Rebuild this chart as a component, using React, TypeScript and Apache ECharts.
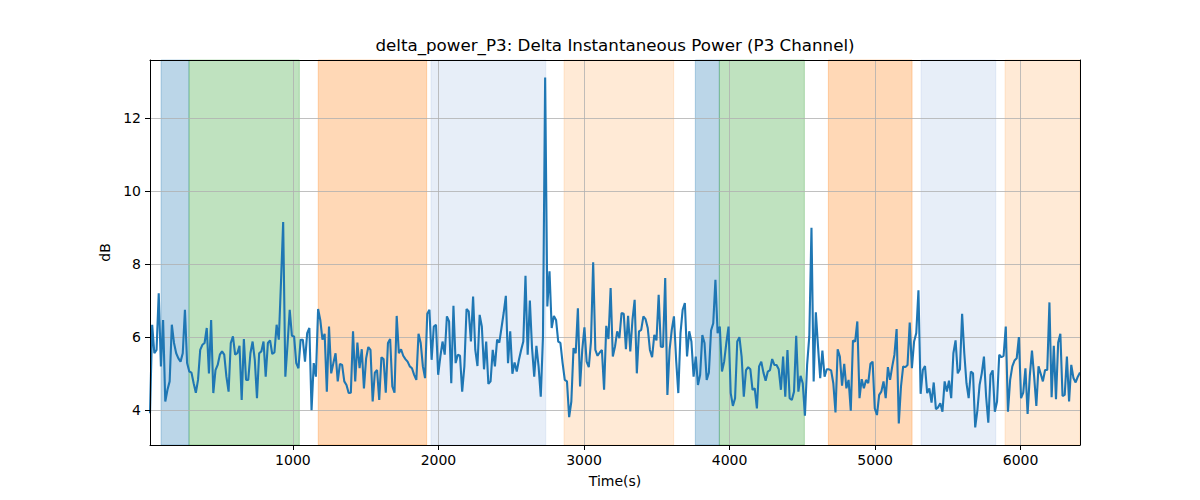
import React, { useEffect, useRef } from "react";
import * as echarts from "echarts";

const TITLE = "delta_power_P3: Delta Instantaneous Power (P3 Channel)";
const X_NAME = "Time(s)";
const Y_NAME = "dB";

const START_TIME = 18;
const STEP = 15;
const X_MIN = 18;
const X_MAX = 6408;
const Y_MIN = 3.05;
const Y_MAX = 13.58;

const X_TICKS = [1000, 2000, 3000, 4000, 5000, 6000];
const Y_TICKS = [4, 6, 8, 10, 12];

const SEG_A = [3.92, 6.34, 5.56, 5.65, 7.2, 5.2, 6.47, 4.24, 4.56, 4.79, 6.34, 5.84, 5.56, 5.42, 5.33, 5.56, 6.75, 5.29, 5.06, 5.03, 4.74, 4.48, 4.83, 5.65, 5.79, 5.84, 6.25, 5.01, 6.47, 4.47, 5.1, 5.24, 5.52, 5.61, 5.52, 4.92, 4.51, 5.84, 6.02, 5.52, 5.56, 5.76, 4.28, 5.95, 4.83, 4.83, 5.56, 5.88, 5.38, 4.33, 5.56, 5.61, 5.88, 4.92, 5.84, 5.91, 5.54, 5.58, 6.34, 5.93];
const SPIKE_A = [7.5, 9.15];
const SEG_B = [4.92, 5.8, 6.75, 6.04, 6.02, 5.29, 5.15, 5.93, 5.93, 5.33, 6.11, 6.25, 4.0, 5.29, 4.92, 6.77, 6.47, 5.93, 6.09, 4.51, 6.29, 5.01, 5.29, 5.56, 4.79, 5.27, 5.24, 4.79, 4.69, 4.47, 4.48, 6.16, 4.79, 5.85, 5.15, 5.67, 4.6, 5.42, 5.73, 5.65, 4.24, 5.03, 5.1, 4.28, 5.45, 5.4, 4.48, 5.84, 5.95, 4.65, 4.48, 6.58, 5.56, 5.67, 5.49, 5.4, 5.33, 5.2, 5.15, 4.97, 4.83];
const SEG_C = [6.09, 5.84, 5.2, 4.88, 6.64, 6.75, 5.38, 6.29, 6.34, 4.97, 5.47, 5.88, 5.52, 6.57, 6.43, 4.74, 6.86, 5.29, 5.52, 5.49, 4.51, 5.2, 6.77, 6.7, 5.88, 7.11, 5.65, 5.21, 6.61, 6.29, 5.12, 5.88, 4.72, 4.79, 5.65, 5.2, 5.93, 5.85, 6.25, 6.66, 7.13, 5.29, 6.16, 5.0, 5.31, 5.06, 5.38, 5.65, 5.88, 7.68, 5.52, 7.0, 5.7, 4.92, 5.76, 5.2, 4.37];
const SPIKE_B = [6.0, 13.1];
const SEG_D = [6.84, 7.8, 6.25, 6.58, 6.47, 5.88, 5.84, 5.29, 4.83, 4.79, 3.81, 4.24, 5.7, 5.56, 6.79, 4.65, 5.65, 6.27, 5.33, 5.18, 5.88, 8.05, 5.65, 5.49, 5.58, 5.65, 4.56, 6.31, 5.95, 7.34, 5.47, 5.74, 6.16, 5.97, 6.66, 6.64, 5.67, 6.58, 5.61, 6.47, 7.02, 5.01, 6.16, 6.2, 6.57, 6.49, 6.25, 5.65, 5.45, 6.06, 5.91, 7.16, 5.74, 5.73, 7.62, 4.42, 5.65, 6.2, 6.57, 5.38, 4.47, 6.11, 6.75];
const SEG_E = [6.93, 5.47, 6.16, 5.88, 4.92, 5.47, 4.69, 4.97, 6.06, 5.84, 4.83, 5.03, 6.18, 6.38, 7.57, 6.11, 6.29, 5.06, 5.33, 5.84, 6.29, 4.47, 4.12, 4.33, 5.88, 6.0, 5.47, 4.37, 5.1, 5.18, 5.12, 4.56, 4.6, 4.05, 5.2, 5.33, 5.03, 4.81, 5.06, 5.1, 5.4, 5.24, 5.24, 5.12, 4.56, 5.47, 4.37, 5.65, 4.33, 4.28, 4.51, 6.04, 4.51, 4.94, 4.74, 3.85, 5.24, 6.02, 8.99, 4.79];
const SEG_F = [6.68, 5.74, 4.88, 5.63, 4.92, 5.12, 5.12, 5.09, 4.74, 3.94, 5.67, 5.47, 4.67, 5.27, 4.6, 4.83, 3.99, 5.91, 5.88, 6.43, 4.33, 4.85, 4.6, 4.83, 4.74, 5.27, 5.33, 4.05, 3.87, 4.42, 4.51, 4.79, 4.33, 5.18, 4.83, 5.2, 5.52, 6.22, 3.64, 4.65, 5.2, 5.18, 5.24, 6.4, 5.15, 5.88, 6.11, 7.28, 4.45, 5.1, 5.21, 4.47, 4.6, 4.21, 4.76, 4.03, 4.08, 4.19, 3.96, 4.79, 4.51];
const SEG_G = [4.81, 4.33, 5.56, 5.91, 5.01, 5.12, 6.64, 5.56, 4.74, 4.33, 5.06, 5.01, 3.53, 4.0, 4.69, 5.01, 5.47, 4.37, 3.66, 4.97, 5.09, 3.96, 4.24, 5.52, 5.45, 5.49, 6.29, 3.96, 4.83, 5.2, 5.36, 5.42, 6.0, 4.33, 4.48, 5.15, 3.9, 4.94, 5.63, 4.92, 4.12, 5.2, 5.0, 4.79, 5.1, 5.1, 6.95, 4.36, 5.76, 4.3, 5.85, 6.09, 4.39, 4.42, 5.47, 4.24, 5.24, 4.88, 4.76, 4.92, 5.03];

const VALUES = [...SEG_A, ...SPIKE_A, ...SEG_B, ...SEG_C, ...SPIKE_B, ...SEG_D, ...SEG_E, ...SEG_F, ...SEG_G];

const SPAN_START = [94, 286, 1174, 1949, 2863, 3765, 3930, 4679, 5316, 5893];
const SPAN_END = [286, 1044, 1919, 2737, 3616, 3930, 4514, 5254, 5829, 6408];
const SPAN_KIND = ["blue", "green", "orange", "lightblue", "lightorange", "blue", "green", "orange", "lightblue", "lightorange"];

const KIND_COLOR: Record<string, string> = {
  blue: "rgba(31,119,180,0.3)",
  green: "rgba(44,160,44,0.3)",
  orange: "rgba(255,127,14,0.3)",
  lightblue: "rgba(174,199,232,0.3)",
  lightorange: "rgba(255,187,120,0.3)",
};

const FONT = "DejaVu Sans";

export default function App() {
  const ref = useRef<HTMLDivElement>(null);

  useEffect(() => {
    document.body.style.margin = "0";
    if (!ref.current) return;
    const chart = echarts.init(ref.current, undefined, { renderer: "svg" });

    const lineData = VALUES.map((v, i) => [START_TIME + STEP * i, v]);

    const spans = SPAN_START.map((s, i) => [
      {
        xAxis: s,
        itemStyle: {
          color: KIND_COLOR[SPAN_KIND[i]],
          borderColor: KIND_COLOR[SPAN_KIND[i]],
          borderWidth: 1,
        },
      },
      { xAxis: SPAN_END[i] },
    ]);

    const gridLines = [
      ...X_TICKS.map((v) => ({ xAxis: v })),
      ...Y_TICKS.map((v) => ({ yAxis: v })),
    ];

    const labelStyle = { color: "#000", fontSize: 14, fontFamily: FONT };
    const plain = (v: number) => String(v);

    chart.setOption({
      animation: false,
      backgroundColor: "#fff",
      title: {
        text: TITLE,
        left: 615,
        top: 36,
        textAlign: "center",
        padding: 0,
        textStyle: { color: "#000", fontSize: 16.7, fontWeight: "normal", fontFamily: FONT },
      },
      grid: { left: 150, right: 120, top: 60, bottom: 55, containLabel: false, outerBoundsMode: "none" },
      xAxis: [
        {
          type: "value",
          min: X_MIN,
          max: X_MAX,
          position: "bottom",
          z: 10,
          axisLine: { show: true, onZero: false, lineStyle: { color: "#000", width: 1 } },
          axisTick: { show: true, customValues: X_TICKS, length: 5, lineStyle: { color: "#000", width: 1 } },
          axisLabel: { ...labelStyle, customValues: X_TICKS, margin: 8, formatter: plain },
          splitLine: { show: false },
          name: X_NAME,
          nameLocation: "middle",
          nameGap: 29,
          nameTextStyle: labelStyle,
        },
        {
          type: "value",
          min: X_MIN,
          max: X_MAX,
          position: "top",
          z: 10,
          axisLine: { show: true, onZero: false, lineStyle: { color: "#000", width: 1 } },
          axisTick: { show: false },
          axisLabel: { show: false },
          splitLine: { show: false },
        },
      ],
      yAxis: [
        {
          type: "value",
          min: Y_MIN,
          max: Y_MAX,
          position: "left",
          z: 10,
          axisLine: { show: true, onZero: false, lineStyle: { color: "#000", width: 1 } },
          axisTick: { show: true, customValues: Y_TICKS, length: 5, lineStyle: { color: "#000", width: 1 } },
          axisLabel: { ...labelStyle, customValues: Y_TICKS, margin: 9, formatter: plain },
          splitLine: { show: false },
          name: Y_NAME,
          nameLocation: "middle",
          nameGap: 34,
          nameTextStyle: labelStyle,
        },
        {
          type: "value",
          min: Y_MIN,
          max: Y_MAX,
          position: "right",
          z: 10,
          axisLine: { show: true, onZero: false, lineStyle: { color: "#000", width: 1 } },
          axisTick: { show: false },
          axisLabel: { show: false },
          splitLine: { show: false },
        },
      ],
      series: [
        {
          name: "spans",
          type: "line",
          data: [],
          silent: true,
          markArea: { silent: true, z: 1, data: spans, label: { show: false } },
        },
        {
          name: "grid",
          type: "line",
          data: [],
          silent: true,
          markLine: {
            silent: true,
            z: 2,
            symbol: ["none", "none"],
            label: { show: false },
            lineStyle: { color: "#b0b0b0", width: 0.8, type: "solid" },
            emphasis: { disabled: true },
            data: gridLines,
          },
        },
        {
          name: "delta_power_P3",
          type: "line",
          z: 3,
          data: lineData,
          showSymbol: false,
          symbol: "none",
          clip: true,
          lineStyle: { color: "#1f77b4", width: 2.1 },
        },
      ],
    });

    return () => chart.dispose();
  }, []);

  return <div ref={ref} style={{ width: 1200, height: 500 }} />;
}
